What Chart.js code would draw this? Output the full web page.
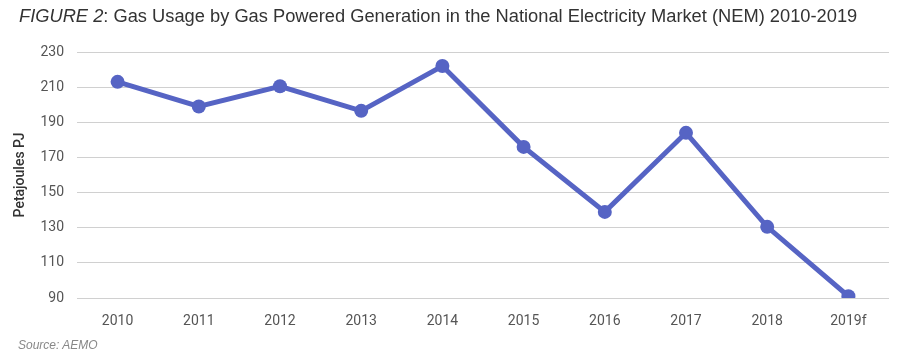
<!DOCTYPE html>
<html>
<head>
<meta charset="utf-8">
<script src="https://cdn.jsdelivr.net/npm/chart.js@4/dist/chart.umd.min.js"></script>
<style>
  body { margin: 0; background: #fff; }
  #wrap { position: relative; width: 900px; height: 362px; }
  #title {
    position: absolute; left: 19px; top: 5px;
    font-family: "Liberation Sans", Arial, sans-serif; font-size: 18.3px; color: #333;
    white-space: nowrap;
  }
  #source {
    position: absolute; left: 18px; top: 338px;
    font-family: "Liberation Sans", Arial, sans-serif; font-size: 12px; font-style: italic; color: #888;
  }
  canvas { position: absolute; left: 0; top: 0; }
</style>
</head>
<body>
<div id="wrap">
  <canvas id="gasChart" width="900" height="362"></canvas>
  <div id="title"><i>FIGURE 2</i>: Gas Usage by Gas Powered Generation in the National Electricity Market (NEM) 2010-2019</div>
  <div id="source">Source: AEMO</div>
</div>
<script>
// Chart data
const years = ['2010', '2011', '2012', '2013', '2014', '2015', '2016', '2017', '2018', '2019f'];
const gasUsage = [213, 199, 210.5, 196.5, 222, 176, 139, 184, 130.5, 91];
const yMin = 90;
const yMax = 230;
const yStep = 20;

const ctx = document.getElementById('gasChart').getContext('2d');
const gasChart = new Chart(ctx, {
    type: 'line',
    data: {
        labels: years,
        datasets: [{
            label: 'Gas usage',
            data: gasUsage,
            borderColor: '#5664c4',
            backgroundColor: '#5664c4',
            borderWidth: 5,
            pointRadius: 7,
            pointBorderWidth: 0,
            pointHoverRadius: 7,
            tension: 0
        }]
    },
    options: {
        responsive: false,
        animation: false,
        layout: { padding: { top: 52, right: 11, left: 0, bottom: 0 } },
        plugins: {
            legend: { display: false },
            tooltip: { enabled: false }
        },
        scales: {
            x: {
                offset: true,
                grid: { display: false, drawTicks: false },
                border: { display: false },
                ticks: {
                    color: '#555',
                    font: { family: 'Roboto', size: 14 },
                    padding: 15,
                    maxRotation: 0
                },
                afterFit: (scale) => { scale.height = 64; }
            },
            y: {
                min: yMin,
                max: yMax,
                grid: { color: '#d0d0d0', drawTicks: false },
                border: { display: false },
                ticks: {
                    stepSize: yStep,
                    color: '#555',
                    font: { family: 'Roboto', size: 14 },
                    padding: 13
                },
                title: {
                    display: true,
                    text: 'Petajoules PJ',
                    color: '#333',
                    font: { family: 'Roboto', size: 14, weight: '500' },
                    padding: { top: 12, bottom: 0 }
                },
                afterFit: (scale) => { scale.width = 77; }
            }
        }
    }
});
</script>
</body>
</html>
